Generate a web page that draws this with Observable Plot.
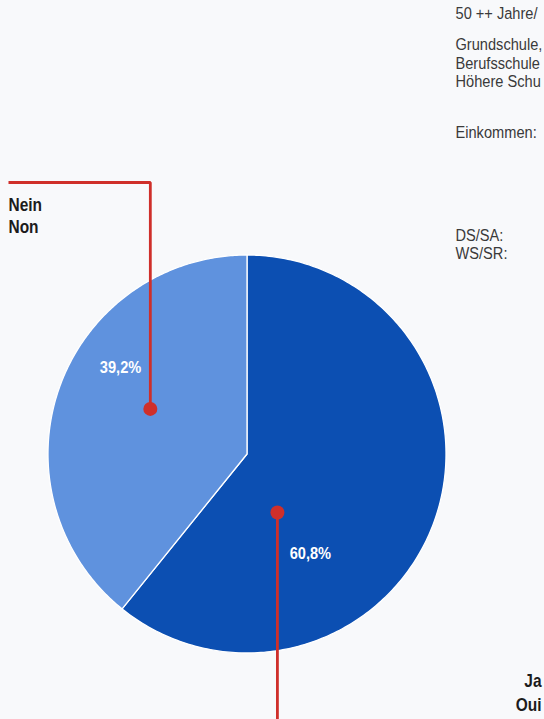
<!DOCTYPE html>
<html>
<head>
<meta charset="utf-8">
<script src="https://cdn.jsdelivr.net/npm/d3@7"></script>
<script src="https://cdn.jsdelivr.net/npm/@observablehq/plot@0.6"></script>
<style>
  html, body { margin: 0; padding: 0; background: #f8f9fb; overflow: hidden; }
  #chart svg { display: block; }
</style>
</head>
<body>
<div id="chart"></div>
<script>
// ---- data ----
const categories = ["Ja / Oui", "Nein / Non"];
const values = [60.8, 39.2];
const valueLabels = ["60,8%", "39,2%"];
const nameLines = [["Ja", "Oui"], ["Nein", "Non"]];
const sideText = ["50 ++ Jahre/", "Grundschule,", "Berufsschule", "Höhere Schu", "Einkommen:", "DS/SA:", "WS/SR:"];

// ---- layout (pixels of the 544x719 page) ----
const W = 544, H = 719;
const CX = 246.5, CY = 453.5, R = 199;
const colors = ["#0c4fb2", "#5f92de"];
const red = "#cf2f2a";
const ux = px => (px - CX) / R;
const vy = py => (CY - py) / R;

// ---- pie geometry via d3.pie ----
const arcs = d3.pie().sort(null).value(d => d)(values);
const polar = (a, r) => ({x: r * Math.sin(a), y: r * Math.cos(a)});
const slicePts = arcs.map((a, i) => {
  const pts = [{x: 0, y: 0, k: i}];
  const n = 240;
  for (let j = 0; j <= n; j++) {
    const t = a.startAngle + (a.endAngle - a.startAngle) * j / n;
    pts.push({...polar(t, 1), k: i});
  }
  pts.push({x: 0, y: 0, k: i});
  return pts;
});

// annotation anchors (polar within slice: angle deg, radius fraction)
const dotPolar = [[152.5, 0.331], [295.0, 0.536]];
const pctPolar = [[147.5, 0.593], [304.4, 0.770]];
const dots = dotPolar.map(([a, r], i) => ({...polar(a * Math.PI / 180, r), i}));
const pcts = pctPolar.map(([a, r], i) => ({...polar(a * Math.PI / 180, r), label: valueLabels[i]}));

// leader lines
const leaders = [
  [{x: dots[0].x, y: dots[0].y, k: 0}, {x: dots[0].x, y: vy(730), k: 0}],
  [{x: dots[1].x, y: dots[1].y, k: 1}, {x: dots[1].x, y: vy(182), k: 1}, {x: ux(8), y: vy(182), k: 1}]
].flat();

// category names
const jaRows = [
  {x: ux(541), y: vy(681), t: nameLines[0][0]},
  {x: ux(541), y: vy(705), t: nameLines[0][1]}
];
const neinRows = [
  {x: ux(8), y: vy(205), t: nameLines[1][0]},
  {x: ux(8), y: vy(227), t: nameLines[1][1]}
];
const sideY = [13, 44, 63, 81, 132, 235, 253];
const sideRows = sideText.map((t, i) => ({x: ux(455), y: vy(sideY[i]), t}));

const font = "'Liberation Sans', Arial, sans-serif";

const chart = Plot.plot({
  width: W, height: H,
  margin: 0,
  x: {domain: [ux(0), ux(W)], axis: null},
  y: {domain: [vy(H), vy(0)], axis: null},
  style: {background: "#f8f9fb", fontFamily: font, overflow: "hidden"},
  marks: [
    Plot.line(slicePts[0], {x: "x", y: "y", fill: colors[0], stroke: "white", strokeWidth: 1.3, curve: "linear-closed"}),
    Plot.line(slicePts[1], {x: "x", y: "y", fill: colors[1], stroke: "white", strokeWidth: 1.3, curve: "linear-closed"}),
    Plot.line(leaders, {x: "x", y: "y", z: "k", stroke: red, strokeWidth: 2.8, strokeLinejoin: "miter", strokeLinecap: "butt"}),
    Plot.dot(dots, {x: "x", y: "y", r: 7, fill: red}),
    Plot.text(pcts, {x: "x", y: "y", text: "label", fill: "white", fontSize: 17, fontWeight: "bold"}),
    Plot.text(jaRows, {x: "x", y: "y", text: "t", textAnchor: "end", fill: "#1c1c1c", fontSize: 18, fontWeight: "bold"}),
    Plot.text(neinRows, {x: "x", y: "y", text: "t", textAnchor: "start", fill: "#1c1c1c", fontSize: 18, fontWeight: "bold"}),
    Plot.text(sideRows, {x: "x", y: "y", text: "t", textAnchor: "start", fill: "#3a3a3a", fontSize: 17})
  ]
});

// condense the type (the reference uses a condensed face): scale about each text's anchor
chart.querySelectorAll("text").forEach(el => {
  const t = el.getAttribute("transform");
  if (t) el.setAttribute("transform", `${t} scale(0.86,1)`);
});
document.getElementById("chart").append(chart);
</script>
</body>
</html>
